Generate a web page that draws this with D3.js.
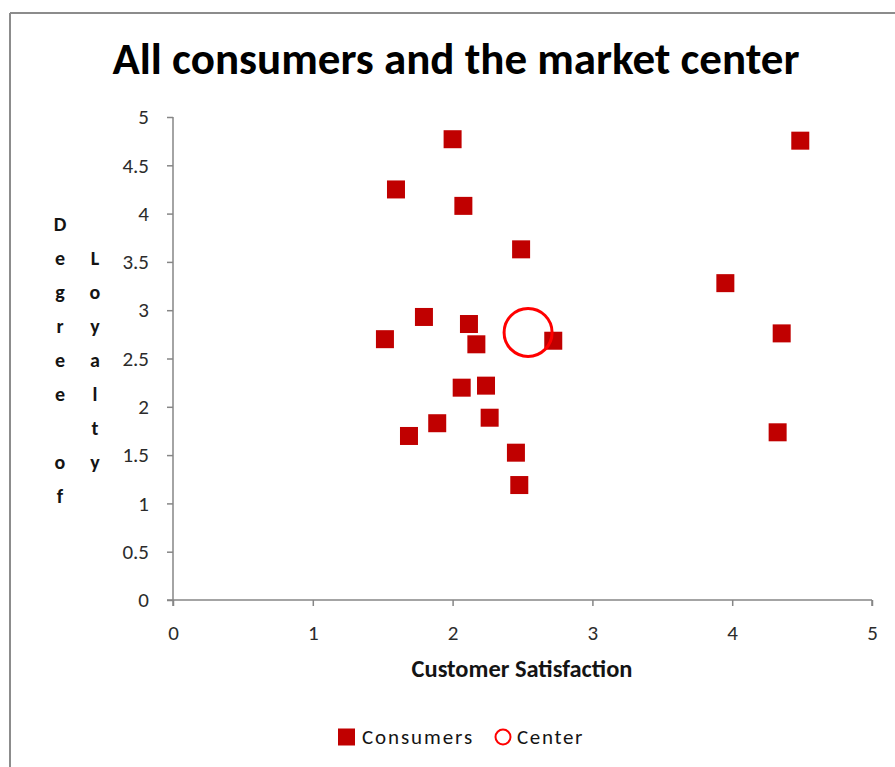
<!DOCTYPE html>
<html>
<head>
<meta charset="utf-8">
<script src="https://cdn.jsdelivr.net/npm/d3@7/dist/d3.min.js"></script>
<style>
  html, body { margin: 0; padding: 0; background: #fff; }
  svg { display: block; }
</style>
</head>
<body>
<svg id="chart" width="895" height="767"></svg>
<script>
// Consumer survey scores: satisfaction (x) against loyalty (y)
const consumerSatisfaction = [2.00, 1.595, 2.077, 2.49, 1.795, 1.516, 2.117, 2.17, 2.72, 2.065,
                              2.239, 2.265, 1.89, 1.688, 2.453, 2.477, 4.487, 3.951, 4.354, 4.325];
const consumerLoyalty      = [4.77, 4.25, 4.08, 3.63, 2.93, 2.70, 2.857, 2.647, 2.684, 2.198,
                              2.219, 1.887, 1.83, 1.698, 1.525, 1.19, 4.755, 3.28, 2.76, 1.736];
// Market center (mean of all consumers)
const centerSatisfaction = [2.54];
const centerLoyalty      = [2.77];

const xTicks = [0, 1, 2, 3, 4, 5];
const yTicks = [0, 0.5, 1, 1.5, 2, 2.5, 3, 3.5, 4, 4.5, 5];

const titleText = "All consumers and the market center";
const xTitle = "Customer Satisfaction";
const yTitleCols = [["D","e","g","r","e","e","","o","f"], ["L","o","y","a","l","t","y"]];
const seriesNames = ["Consumers", "Center"];

const svg = d3.select("#chart");
const font = "Carlito, Calibri, 'Open Sans', 'Liberation Sans', sans-serif";
const axisColor = "#868686";
const labelColor = "#2b2b2b";
const textColor = "#141414";
const squareColor = "#C00000";
const circleColor = "#FF0000";

// scale a text's font size so it spans the given width
function fitWidth(sel, size, width) {
  const w = sel.node().getComputedTextLength();
  sel.attr("font-size", size * width / w);
}
// spread a text's letters so it spans the given width
function spreadTo(sel, width) {
  const w = sel.node().getComputedTextLength();
  const n = sel.text().length;
  sel.attr("letter-spacing", (width - w) / n);
}

// chart frame (top and left edges visible)
svg.append("line").attr("x1", 10).attr("x2", 895).attr("y1", 13).attr("y2", 13)
  .attr("stroke", "#8c8c8c").attr("stroke-width", 2);
svg.append("line").attr("x1", 10).attr("x2", 10).attr("y1", 13).attr("y2", 767)
  .attr("stroke", "#8c8c8c").attr("stroke-width", 2);

const plot = { left: 173, right: 872, top: 117, bottom: 600 };
const x = d3.scaleLinear().domain([0, 5]).range([plot.left, plot.right]);
const y = d3.scaleLinear().domain([0, 5]).range([plot.bottom, plot.top]);

// title
const title = svg.append("text")
  .attr("x", 456).attr("y", 74)
  .attr("text-anchor", "middle")
  .attr("font-family", font).attr("font-weight", "bold")
  .attr("font-size", 36).attr("fill", "#000")
  .text(titleText);
fitWidth(title, 36, 687);

// axes
const xAxis = d3.axisBottom(x).tickValues(xTicks).tickSize(6).tickPadding(19)
  .tickFormat(d3.format("d"));
const yAxis = d3.axisLeft(y).tickValues(yTicks).tickSize(6).tickPadding(18)
  .tickFormat(d => String(d));

const gx = svg.append("g").attr("transform", `translate(0,${plot.bottom})`).call(xAxis);
const gy = svg.append("g").attr("transform", `translate(${plot.left},0)`).call(yAxis);

[gx, gy].forEach(g => {
  g.select(".domain").attr("stroke", axisColor).attr("stroke-width", 1.5);
  g.selectAll(".tick line").attr("stroke", axisColor).attr("stroke-width", 1.5);
  g.selectAll(".tick text").attr("font-family", font).attr("font-size", 21)
    .attr("fill", labelColor);
});
// x axis line reaches back to the y tick at 0
gx.select(".domain").attr("d", `M${plot.left - 6},0H${plot.right}`);
gx.append("line").attr("x1", plot.right).attr("x2", plot.right).attr("y1", 0).attr("y2", 6)
  .attr("stroke", axisColor).attr("stroke-width", 1.5);
gy.select(".domain").attr("d", `M0,${plot.top}V${plot.bottom + 6}`);

// axis titles
const xt = svg.append("text")
  .attr("x", 522).attr("y", 677)
  .attr("text-anchor", "middle")
  .attr("font-family", font).attr("font-weight", "bold").attr("font-size", 20)
  .attr("fill", textColor)
  .text(xTitle);
fitWidth(xt, 20, 221);

const colX = [60, 95];
const lineStep = 34;
yTitleCols.forEach((col, ci) => {
  const n = col.length;
  const cy = (plot.top + plot.bottom) / 2 + 1;
  col.forEach((ch, i) => {
    if (!ch) return;
    svg.append("text")
      .attr("x", colX[ci])
      .attr("y", cy + (i - (n - 1) / 2) * lineStep)
      .attr("dy", "0.35em")
      .attr("text-anchor", "middle")
      .attr("font-family", font).attr("font-weight", "bold").attr("font-size", 20)
      .attr("fill", textColor)
      .text(ch);
  });
});

// consumers
const sq = 18;
const consumers = consumerSatisfaction.map((v, i) => ({ x: v, y: consumerLoyalty[i] }));
svg.append("g").selectAll("rect").data(consumers).join("rect")
  .attr("x", d => x(d.x) - sq / 2)
  .attr("y", d => y(d.y) - sq / 2)
  .attr("width", sq).attr("height", sq)
  .attr("fill", squareColor);

// market center
const center = centerSatisfaction.map((v, i) => ({ x: v, y: centerLoyalty[i] }));
svg.append("g").selectAll("circle").data(center).join("circle")
  .attr("cx", d => x(d.x)).attr("cy", d => y(d.y))
  .attr("r", 24)
  .attr("fill", "none")
  .attr("stroke", circleColor).attr("stroke-width", 3);

// legend
const legend = svg.append("g").attr("transform", "translate(0,737)");
legend.append("rect").attr("x", 338).attr("y", -8.5).attr("width", 17).attr("height", 17)
  .attr("fill", squareColor);
const l1 = legend.append("text").attr("x", 362).attr("y", 0).attr("dy", "0.35em")
  .attr("font-family", font).attr("font-size", 21).attr("fill", textColor)
  .text(seriesNames[0]);
spreadTo(l1, 112);
legend.append("circle").attr("cx", 503).attr("cy", 0).attr("r", 7.5)
  .attr("fill", "none").attr("stroke", circleColor).attr("stroke-width", 2);
const l2 = legend.append("text").attr("x", 517).attr("y", 0).attr("dy", "0.35em")
  .attr("font-family", font).attr("font-size", 21).attr("fill", textColor)
  .text(seriesNames[1]);
spreadTo(l2, 67);
</script>
</body>
</html>
